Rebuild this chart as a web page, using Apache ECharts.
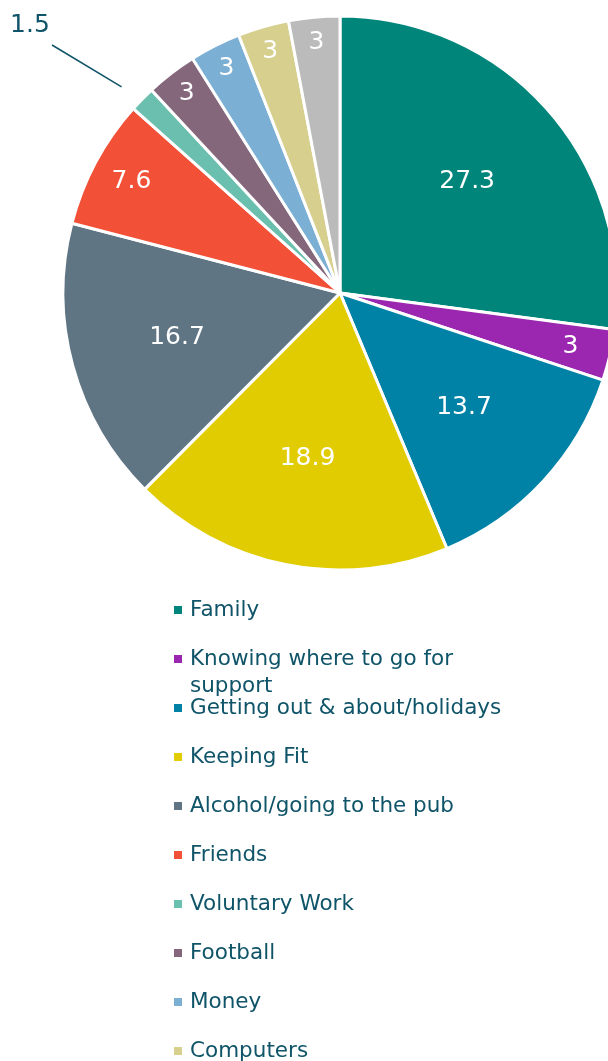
<!DOCTYPE html>
<html>
<head>
<meta charset="utf-8">
<script src="https://cdn.jsdelivr.net/npm/echarts@6/dist/echarts.min.js"></script>
<style>
html,body{margin:0;padding:0;background:#fff;}
#chart{width:608px;height:1061px;}
</style>
</head>
<body>
<div id="chart"></div>
<script>
const categories = ["Family","Knowing where to go for support","Getting out & about/holidays","Keeping Fit","Alcohol/going to the pub","Friends","Voluntary Work","Football","Money","Computers","Other"];
const values = [27.3, 3, 13.7, 18.9, 16.7, 7.6, 1.5, 3, 3, 3, 3];
const colors = ["#00857A","#9B27B0","#0082A6","#E0CC00","#5F7584","#F25037","#6BBFAE","#85677C","#7BAFD4","#D6CF8E","#BBBBBB"];
const legendCount = 10;

const FONT = "DejaVu Sans";
const textColor = "#0F5468";
const bigLabels = [0, 2, 3, 4];
const midLabels = [1, 5];
const topLabels = [7, 8, 9, 10];
const outsideLabels = [6];

const chart = echarts.init(document.getElementById('chart'), null, {renderer:'canvas'});
const center = [340, 293];
const R = 277;
const LH = 27;

function overlay(radius, idxs) {
  return {
    type: 'pie', silent: true, center, radius, startAngle: 90, clockwise: true,
    avoidLabelOverlap: false, legendHoverLink: false, z: 5,
    itemStyle: { color: 'rgba(0,0,0,0)', borderWidth: 0 },
    labelLine: { show: false },
    data: categories.map((c, i) => ({
      name: c, value: values[i],
      itemStyle: { color: 'rgba(0,0,0,0)' },
      label: { show: idxs.includes(i), position: 'inside', color: '#fff', fontFamily: FONT, fontSize: 25, formatter: '{c}' }
    }))
  };
}

const legends = categories.slice(0, legendCount).map((c, i) => {
  const twoLine = (i === 1);
  return {
    orient: 'vertical', left: 174, top: 596.5 + i * 49, padding: 0,
    itemWidth: 14, itemHeight: twoLine ? 8 + LH : 8,
    icon: twoLine ? 'path://M0,0h1v1h-1z M0,4.375L0.001,4.375' : 'path://M0,0h1v1h-1z',
    itemStyle: { borderWidth: 0 },
    selectedMode: false,
    data: [c],
    textStyle: twoLine
      ? { color: textColor, fontFamily: FONT, fontSize: 21.5, width: 320, overflow: 'break', lineHeight: LH }
      : { color: textColor, fontFamily: FONT, fontSize: 21.5, lineHeight: LH }
  };
});

chart.setOption({
  animation: false,
  color: colors,
  legend: legends,
  series: [
    {
      type: 'pie', center, radius: [0, R], startAngle: 90, clockwise: true,
      avoidLabelOverlap: false,
      itemStyle: { borderColor: '#fff', borderWidth: 3 },
      data: categories.map((c, i) => ({
        name: c, value: values[i],
        itemStyle: { color: colors[i] },
        label: outsideLabels.includes(i)
          ? { show: true, position: 'outside', formatter: '{c}', color: textColor, fontFamily: FONT, fontSize: 25 }
          : { show: false },
        labelLine: outsideLabels.includes(i)
          ? { show: true, length: 10, length2: 10, smooth: false, lineStyle: { color: '#0F5468', width: 1.5 } }
          : { show: false }
      })),
      labelLayout: function (p) {
        if (p.dataIndex === 6) {
          const out = { x: 30, y: 25, align: 'center', verticalAlign: 'middle' };
          const pts = p.labelLinePoints;
          if (pts && pts.length) {
            const s = pts[0];
            const dx = s[0] - 52, dy = s[1] - 45;
            const L = Math.sqrt(dx*dx + dy*dy);
            const k = 24 / L;
            const start = [s[0] - dx * k, s[1] - dy * k];
            out.labelLinePoints = [start, [52, 45], [52, 45]];
          }
          return out;
        }
      }
    },
    overlay([55, R], bigLabels),
    overlay([190, R], midLabels),
    overlay([220, R], topLabels)
  ]
});
</script>
</body>
</html>
